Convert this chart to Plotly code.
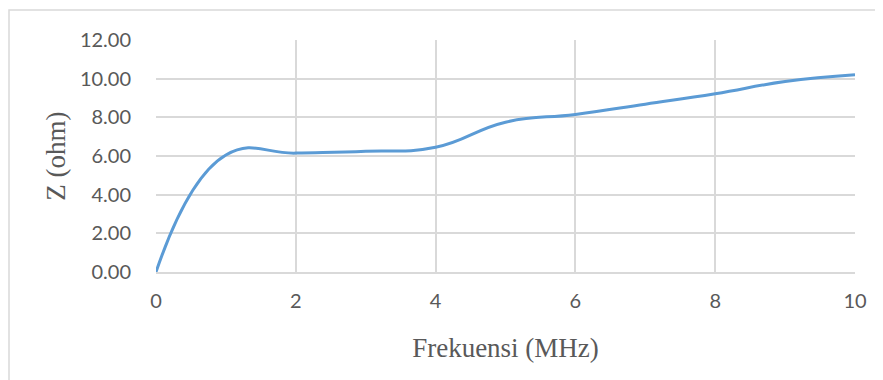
import plotly.graph_objects as go

# frekuensi (MHz) dan impedansi (ohm)
frekuensi = [0, 1, 2, 3, 4, 5, 6, 7, 8, 9, 10]
impedansi = [0.0, 6.05, 6.15, 6.25, 6.45, 7.75, 8.15, 8.68, 9.22, 9.85, 10.2]

x_ticks = [0, 2, 4, 6, 8, 10]
y_ticks = [0, 2, 4, 6, 8, 10, 12]

abu = '#595959'
grid = '#D9D9D9'

fig = go.Figure()
fig.add_trace(go.Scatter(x=frekuensi, y=impedansi, mode='lines',
                         line=dict(color='#5B9BD5', width=3, shape='spline', smoothing=1.3),
                         showlegend=False, hoverinfo='x+y'))

# halaman punya margin body 8px, jadi ukuran figur dikurangi
fig.update_layout(
    width=875, height=372,
    margin=dict(l=148, r=28, t=32, b=108),
    plot_bgcolor='white', paper_bgcolor='white',
    font=dict(family='Lato', color=abu, size=20),
)
fig.update_xaxes(range=[0, 10], tickvals=x_ticks, ticktext=[str(v) for v in x_ticks],
                 showgrid=True, gridcolor=grid, gridwidth=1.5,
                 showline=True, linecolor=grid, linewidth=1.5, mirror=False,
                 zeroline=False, ticks='outside', ticklen=10, tickcolor='rgba(0,0,0,0)',
                 tickfont=dict(family='Lato', size=20, color=abu),
                 title=dict(text='Frekuensi (MHz)', standoff=27,
                            font=dict(family='Liberation Serif', size=27, color=abu)))
fig.update_yaxes(range=[0, 12], tickvals=y_ticks, ticktext=['%.2f' % v for v in y_ticks],
                 showgrid=True, gridcolor=grid, gridwidth=1.5,
                 zeroline=False, ticks='outside', ticklen=20, tickcolor='rgba(0,0,0,0)',
                 tickfont=dict(family='Lato', size=20, color=abu),
                 title=dict(text='Z (ohm)', standoff=6,
                            font=dict(family='Liberation Serif', size=27, color=abu)))

# bingkai luar chart (kiri dan atas terlihat)
fig.add_shape(type='rect', xref='paper', yref='paper',
              x0=(9 - 156) / 699, x1=1.2, y0=-1.0, y1=(272 - 10) / 232,
              line=dict(color='#D9D9D9', width=1.5), layer='below')

fig.write_html('out.html')
